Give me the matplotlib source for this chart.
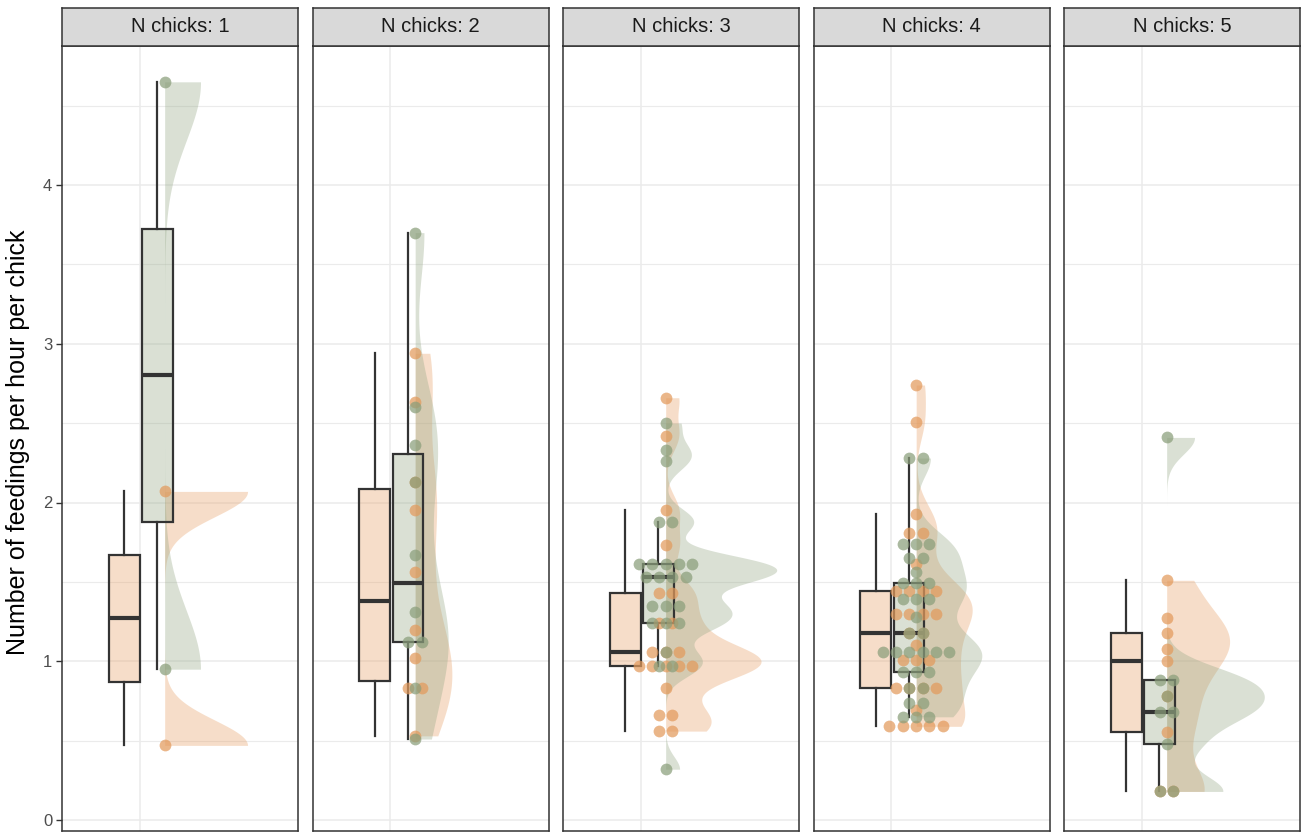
import numpy as np
import matplotlib.pyplot as plt
from matplotlib.colors import to_rgb

plt.rcParams['font.family'] = ['Liberation Sans', 'DejaVu Sans']

# feeding rates per chick, one list per brood size and group
orange_n1 = [0.47, 2.07]
green_n1 = [0.95, 4.65]

orange_n2 = [2.94, 2.63, 2.13, 1.95, 1.56, 1.20, 1.02, 0.83, 0.83, 0.53]
green_n2 = [3.70, 2.60, 2.36, 2.13, 1.67, 1.31, 1.12, 1.12, 0.83, 0.51]

orange_n3 = [2.66, 2.42, 1.95, 1.73, 1.43, 1.43, 1.24, 1.24, 1.06, 1.06, 1.06,
             0.97, 0.97, 0.97, 0.97, 0.97, 0.83, 0.66, 0.66, 0.56, 0.56]
green_n3 = [2.50, 2.33, 2.26, 1.88, 1.88, 1.61, 1.61, 1.61, 1.61, 1.61,
            1.53, 1.53, 1.53, 1.53, 1.35, 1.35, 1.35, 1.24, 1.24, 1.24,
            1.06, 0.97, 0.97, 0.32]

orange_n4 = [2.74, 2.51, 1.93, 1.81, 1.81, 1.61, 1.44, 1.44, 1.44, 1.44,
             1.30, 1.30, 1.30, 1.30, 1.18, 1.18, 1.10, 1.01, 1.01, 1.01,
             0.83, 0.83, 0.83, 0.83, 0.69, 0.59, 0.59, 0.59, 0.59, 0.59]
green_n4 = [2.28, 2.28, 1.74, 1.74, 1.74, 1.65, 1.65, 1.56, 1.49, 1.49, 1.49,
            1.39, 1.39, 1.39, 1.28, 1.18, 1.18, 1.06, 1.06, 1.06, 1.06, 1.06,
            1.06, 0.93, 0.93, 0.93, 0.83, 0.83, 0.74, 0.74, 0.65, 0.65, 0.65]

orange_n5 = [1.51, 1.27, 1.18, 1.08, 1.00, 0.78, 0.555, 0.18, 0.18]
green_n5 = [2.41, 0.885, 0.885, 0.78, 0.68, 0.68, 0.48, 0.18, 0.18]

strip_labels = ['N chicks: 1', 'N chicks: 2', 'N chicks: 3', 'N chicks: 4', 'N chicks: 5']
orange_groups = [orange_n1, orange_n2, orange_n3, orange_n4, orange_n5]
green_groups = [green_n1, green_n2, green_n3, green_n4, green_n5]
bw_adjust = [0.34, 0.6, 0.6, 0.6, 0.6]

ORANGE = '#E8A066'
GREEN = '#95A886'
ORANGE_PT = '#E39A5C'
GREEN_PT = '#8A9E7A'
EDGE = '#333333'

X_GRID = 0.33
X_BOX_O = 0.264
X_BOX_G = 0.404
X_PTS = 0.435
BOX_W = 0.13
DOT_STEP = 0.0565
DENS_SCALE = 0.28


def half_density(vals, adjust, npts=300):
    v = np.asarray(vals, float)
    n = len(v)
    sd = v.std(ddof=1)
    q1, q3 = np.percentile(v, [25, 75])
    lo = min(sd, (q3 - q1) / 1.34)
    if lo <= 0:
        lo = sd
    bw = 0.9 * lo * n ** -0.2 * adjust
    y = np.linspace(v.min(), v.max(), npts)
    d = np.exp(-0.5 * ((y[:, None] - v[None, :]) / bw) ** 2).sum(1)
    d = d / (n * bw * np.sqrt(2 * np.pi))
    return y, d


def dot_offsets(vals):
    v = np.round(np.asarray(vals, float), 3)
    xs = np.zeros(len(v))
    for u in np.unique(v):
        idx = np.where(v == u)[0]
        c = len(idx)
        xs[idx] = (np.arange(c) - (c - 1) / 2) * DOT_STEP
    return X_PTS + xs, v


W, H = 1303, 834
fig = plt.figure(figsize=(W / 100, H / 100), dpi=100)

lefts = [62, 312.5, 563, 813.5, 1064]
pw = 236
ylim = ((820 - 831) / 158.75, (820 - 46) / 158.75)

for k in range(5):
    ax = fig.add_axes([lefts[k] / W, 3 / H, pw / W, 785 / H])
    ax.set_xlim(0, 1)
    ax.set_ylim(*ylim)
    ax.set_facecolor('white')

    ax.set_yticks([0, 1, 2, 3, 4])
    ax.set_yticks(np.arange(0.5, 5, 1.0), minor=True)
    ax.set_xticks([X_GRID])
    ax.grid(True, which='major', color='#EBEBEB', lw=1.1, zorder=0)
    ax.grid(True, which='minor', axis='y', color='#EBEBEB', lw=0.8, zorder=0)
    ax.set_axisbelow(True)
    ax.tick_params(axis='x', length=0, labelbottom=False)
    ax.tick_params(axis='y', which='minor', length=0)
    if k == 0:
        ax.tick_params(axis='y', which='major', length=4, width=1, color=EDGE,
                       labelsize=12, labelcolor='#4D4D4D', pad=3)
    else:
        ax.tick_params(axis='y', which='major', length=0, labelleft=False)
    for s in ax.spines.values():
        s.set_color(EDGE)
        s.set_linewidth(1.1)

    og, gg = orange_groups[k], green_groups[k]

    # half densities to the right of the dots
    for vals, col in [(og, ORANGE), (gg, GREEN)]:
        yy, dd = half_density(vals, bw_adjust[k])
        ax.fill_betweenx(yy, X_PTS, X_PTS + dd * DENS_SCALE, color=col,
                         alpha=0.35, lw=0, zorder=1)

    # boxes
    for vals, pos, col in [(og, X_BOX_O, ORANGE), (gg, X_BOX_G, GREEN)]:
        bp = ax.boxplot(vals, positions=[pos], widths=BOX_W, patch_artist=True,
                        showfliers=False, showcaps=False, whis=1.5,
                        manage_ticks=False, zorder=2,
                        medianprops=dict(color=EDGE, lw=3),
                        whiskerprops=dict(color=EDGE, lw=1.6),
                        boxprops=dict(edgecolor=EDGE, lw=1.6))
        for b in bp['boxes']:
            b.set_facecolor((*to_rgb(col), 0.35))

    # stacked dots
    for vals, col in [(og, ORANGE_PT), (gg, GREEN_PT)]:
        xs, ys = dot_offsets(vals)
        ax.scatter(xs, ys, s=72, color=col, alpha=0.72, lw=0, zorder=3)

    # strip
    sax = fig.add_axes([lefts[k] / W, 788 / H, pw / W, 38 / H])
    sax.set_facecolor('#D9D9D9')
    sax.set_xticks([])
    sax.set_yticks([])
    for s in sax.spines.values():
        s.set_color(EDGE)
        s.set_linewidth(1.1)
    sax.text(0.5, 0.5, strip_labels[k], ha='center', va='center',
             fontsize=14.5, color='#1A1A1A', transform=sax.transAxes)

fig.text(18 / W, 1 - 442 / H, 'Number of feedings per hour per chick',
         rotation=90, ha='center', va='center', fontsize=18, color='black')

fig.savefig('out.png', dpi=100)
